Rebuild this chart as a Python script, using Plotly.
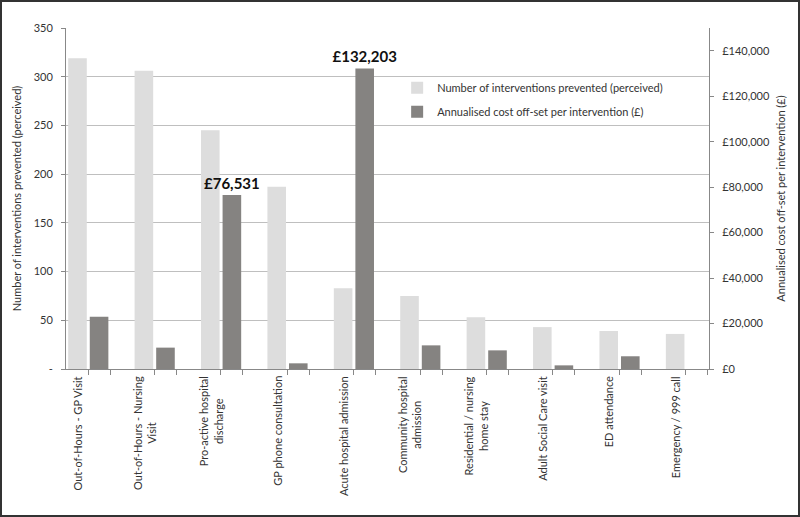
import plotly.graph_objects as go

# categories along the bottom (line breaks as in the original chart)
categories = [
    "Out-of-Hours - GP Visit",
    "Out-of-Hours - Nursing<br>Visit",
    "Pro-active hospital<br>discharge",
    "GP phone consultation",
    "Acute hospital admission",
    "Community hospital<br>admission",
    "Residential / nursing<br>home stay",
    "Adult Social Care visit",
    "ED attendance",
    "Emergency / 999 call",
]

# number of interventions prevented (perceived), left axis
interventions = [319, 306, 245, 187, 83, 75, 53, 43, 39, 36]

# annualised cost off-set per intervention (GBP), right axis
cost_offset = [23000, 9400, 76531, 2500, 132203, 10400, 8200, 1600, 5600, 0]

# which cost bars carry a value label
cost_labelled = [False, False, True, False, True, False, False, False, False, False]

left_ticks = [0, 50, 100, 150, 200, 250, 300, 350]
right_ticks = [0, 20000, 40000, 60000, 80000, 100000, 120000, 140000]

idx = list(range(len(categories)))
cost_text = ["£{:,.0f}".format(v) if show else "" for v, show in zip(cost_offset, cost_labelled)]

LIGHT = "#DDDDDD"
DARK = "#858381"
AXIS = "#888888"
GRID = "#BFBFBF"
TXT = "#333333"
FONT = "Lato"

fig = go.Figure()

fig.add_trace(go.Bar(
    x=idx, y=interventions,
    name="Number of interventions prevented (perceived)",
    legendgroup="a",
    marker=dict(color=LIGHT, line=dict(width=0)),
    width=0.28, offset=-0.14,
))

fig.add_trace(go.Bar(
    x=idx, y=cost_offset, yaxis="y2",
    name="Annualised cost off-set per intervention (£)",
    legendgroup="b",
    marker=dict(color=DARK, line=dict(width=0)),
    width=0.28, offset=0.185,
    text=cost_text, textposition="outside", cliponaxis=False,
    constraintext="none",
    textfont=dict(family=FONT, size=15, color="#111111", weight="bold"),
))

# small ticks either side of the cost bars, like the original
minor_vals = []
for i in idx:
    minor_vals += [i + 0.16, i + 0.49]

# category labels, rotated, lines centred like the original
for i, name in zip(idx, categories):
    fig.add_annotation(
        x=i, y=0, xref="x", yref="y", text=name, showarrow=False,
        textangle=-90, align="center", xanchor="center", yanchor="top",
        yshift=-5, font=dict(size=11, color=TXT),
    )

fig.update_layout(
    width=800, height=517,
    margin=dict(l=66, r=91, t=28, b=148),
    paper_bgcolor="white", plot_bgcolor="white",
    font=dict(family=FONT, size=11, color=TXT),
    barmode="overlay",
    showlegend=True,
    legend=dict(
        x=0.515, y=0.867, xanchor="left", yanchor="top",
        bgcolor="rgba(0,0,0,0)", font=dict(size=11, color=TXT),
        itemwidth=30, tracegroupgap=5,
    ),
    xaxis=dict(
        range=[-0.173, 9.51],
        tickmode="array", tickvals=idx, showticklabels=False,
        ticks="", showgrid=False,
        showline=True, linecolor=AXIS, linewidth=1,
        minor=dict(tickmode="array", tickvals=minor_vals, ticks="outside",
                   ticklen=5, tickcolor=AXIS, showgrid=False),
        zeroline=False,
    ),
    yaxis=dict(
        range=[0, 350],
        tickmode="array", tickvals=left_ticks,
        ticktext=["-"] + [str(v) for v in left_ticks[1:]],
        ticks="outside", ticklen=4, tickcolor=AXIS,
        showgrid=True, gridcolor=GRID, gridwidth=1,
        showline=True, linecolor=AXIS, linewidth=1,
        zeroline=False,
        tickfont=dict(size=11, color=TXT),
        ticklabelstandoff=6,
        title=dict(text="Number of interventions prevented (perceived)",
                   font=dict(size=11, color=TXT), standoff=9),
    ),
    yaxis2=dict(
        range=[0, 150000], overlaying="y", side="right",
        tickmode="array", tickvals=right_ticks,
        ticktext=["£{:,}".format(v) for v in right_ticks],
        ticks="outside", ticklen=4, tickcolor=AXIS,
        showgrid=False, zeroline=False,
        showline=True, linecolor=AXIS, linewidth=1,
        tickfont=dict(size=11, color=TXT),
        ticklabelstandoff=6,
        title=dict(text="Annualised cost off-set per intervention (£)",
                   font=dict(size=11, color=TXT), standoff=8),
    ),
    shapes=[dict(
        type="rect", xref="paper", yref="paper",
        x0=-65 / 643, x1=733 / 643, y0=-147 / 341, y1=368 / 341,
        line=dict(color="#333333", width=2), fillcolor="rgba(0,0,0,0)",
    )],
)

fig.write_html("out.html", config={"displayModeBar": False},
               post_script="document.body.style.margin='0px';")
